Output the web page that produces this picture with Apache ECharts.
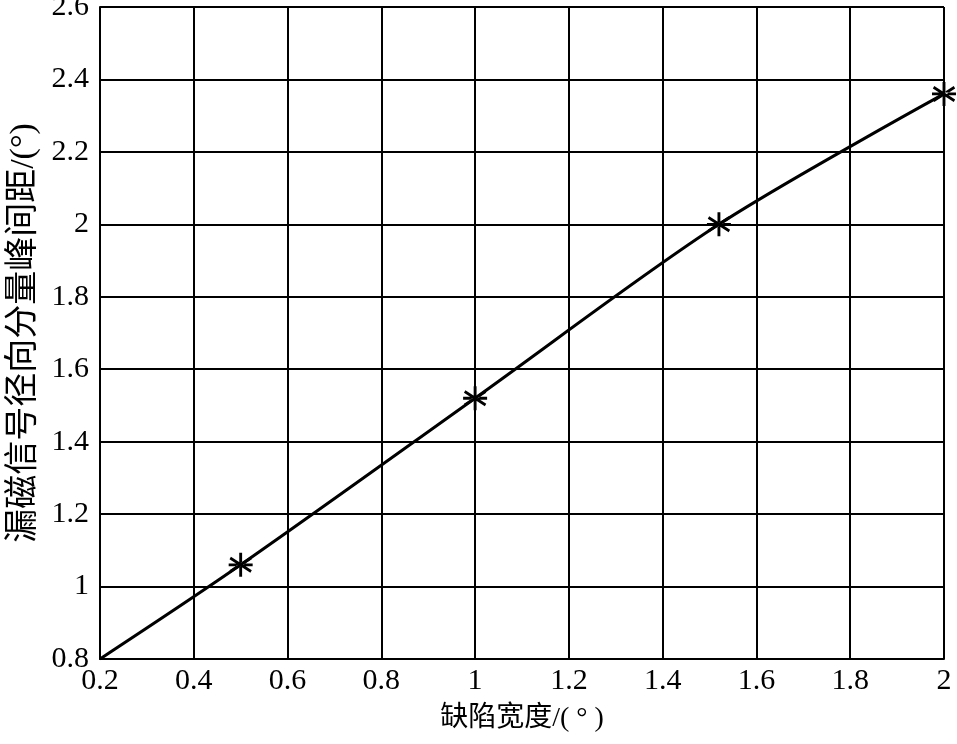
<!DOCTYPE html>
<html><head><meta charset="utf-8">
<script src="https://cdn.jsdelivr.net/npm/echarts@6/dist/echarts.min.js"></script>
<style>html,body{margin:0;padding:0;background:#fff}#c{width:957px;height:744px}</style>
</head><body><div id="c"></div>
<script>
var xValues = [0.2, 0.5, 1.0, 1.52, 2.0];
var yValues = [0.8, 1.06, 1.52, 2.0, 2.36];
var markerX = [0.5, 1.0, 1.52, 2.0];
var markerY = [1.06, 1.52, 2.0, 2.36];
var xName = '缺陷宽度/( ° )';
var yName = '漏磁信号径向分量峰间距/(°)';

var ff = '"Liberation Serif", "Noto Sans CJK SC", serif';
var chart = echarts.init(document.getElementById('c'));
var star = 'path://M-0.12,-1 L0.12,-1 L0.12,1 L-0.12,1 Z M-0.93,-0.46 L-0.81,-0.67 L0.93,0.46 L0.81,0.67 Z M-0.93,0.46 L-0.81,0.67 L0.93,-0.46 L0.81,-0.67 Z M-1,-0.12 L1,-0.12 L1,0.12 L-1,0.12 Z';
chart.setOption({
  animation: false,
  backgroundColor: '#fff',
  grid: {left: 100, right: 13, top: 7, bottom: 85, containLabel: false, outerBoundsMode: 'none'},
  xAxis: {
    type: 'value', min: 0.2, max: 2.0, interval: 0.2,
    name: xName, nameLocation: 'middle', nameGap: 46,
    nameTextStyle: {fontFamily: ff, fontSize: 28, color: '#000'},
    axisLine: {show: true, lineStyle: {color: '#000', width: 2}},
    axisTick: {show: false},
    axisLabel: {fontFamily: ff, fontSize: 30, color: '#000', margin: 7,
      formatter: function(v){ return +v.toFixed(1) + ''; }},
    splitLine: {show: true, lineStyle: {color: '#000', width: 2}}
  },
  yAxis: {
    type: 'value', min: 0.8, max: 2.6, interval: 0.2,
    name: yName, nameLocation: 'middle', nameGap: 58, nameRotate: 90,
    nameTextStyle: {fontFamily: ff, fontSize: 34, color: '#000'},
    axisLine: {show: true, lineStyle: {color: '#000', width: 2}},
    axisTick: {show: false},
    axisLabel: {fontFamily: ff, fontSize: 30, color: '#000', margin: 11,
      formatter: function(v){ return +v.toFixed(1) + ''; }},
    splitLine: {show: true, lineStyle: {color: '#000', width: 2}}
  },
  series: [
    {type: 'line', smooth: 0.3, showSymbol: false, symbol: 'none',
     data: xValues.map(function(x,i){return [x, yValues[i]];}),
     lineStyle: {color: '#000', width: 3}, z: 3},
    {type: 'scatter', symbol: star, symbolSize: 24,
     data: markerX.map(function(x,i){return [x, markerY[i]];}),
     itemStyle: {color: '#000', opacity: 1}, z: 4}
  ]
});
</script></body></html>
